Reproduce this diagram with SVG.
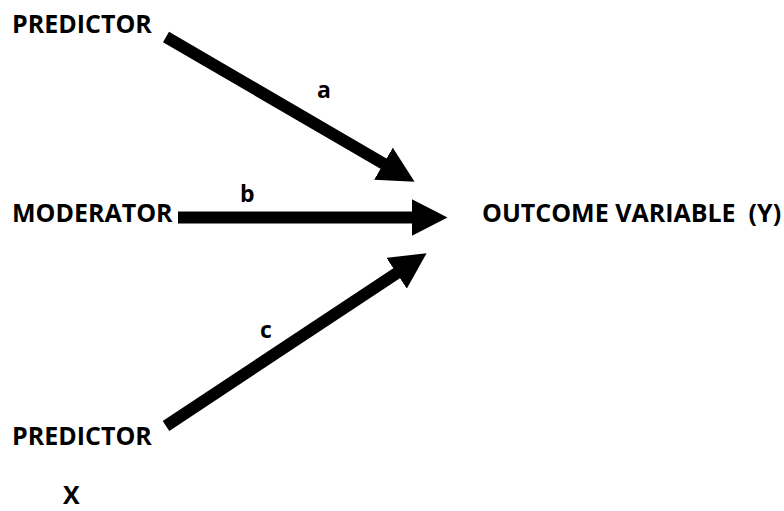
<svg xmlns="http://www.w3.org/2000/svg" width="784" height="511" viewBox="0 0 784 511">
<style>
text{font-family:"Open Sans","Liberation Sans",sans-serif;font-weight:bold;font-size:25px;fill:#000}
.lbl{font-size:23px}
.conn line{stroke:#000;stroke-width:12;stroke-linecap:butt}
</style>
<defs>
<marker id="head" markerUnits="userSpaceOnUse" viewBox="0 0 36 37" markerWidth="36" markerHeight="37" refX="0.5" refY="18.5" orient="auto">
<path d="M0,0 L36,18.5 L0,37 Z" fill="#000"/>
</marker>
</defs>
<rect width="784" height="511" fill="#fff"/>
<g id="predictor1"><text x="12" y="33">PREDICTOR</text></g>
<g id="moderator"><text x="12" y="222">MODERATOR</text></g>
<g id="outcome"><text x="482" y="222" xml:space="preserve">OUTCOME VARIABLE  (Y)</text></g>
<g id="predictor2"><text x="12" y="445">PREDICTOR</text></g>
<g id="x"><text x="63" y="504">X</text></g>
<g class="conn" id="connectors">
<line x1="166" y1="37" x2="383.9" y2="163.9" marker-end="url(#head)"/>
<line x1="178" y1="217.5" x2="412" y2="217.5" marker-end="url(#head)"/>
<line x1="166" y1="426" x2="397" y2="272.9" marker-end="url(#head)"/>
<text class="lbl" x="317" y="98">a</text>
<text class="lbl" x="240" y="202">b</text>
<text class="lbl" x="260" y="338">c</text>
</g>
</svg>
